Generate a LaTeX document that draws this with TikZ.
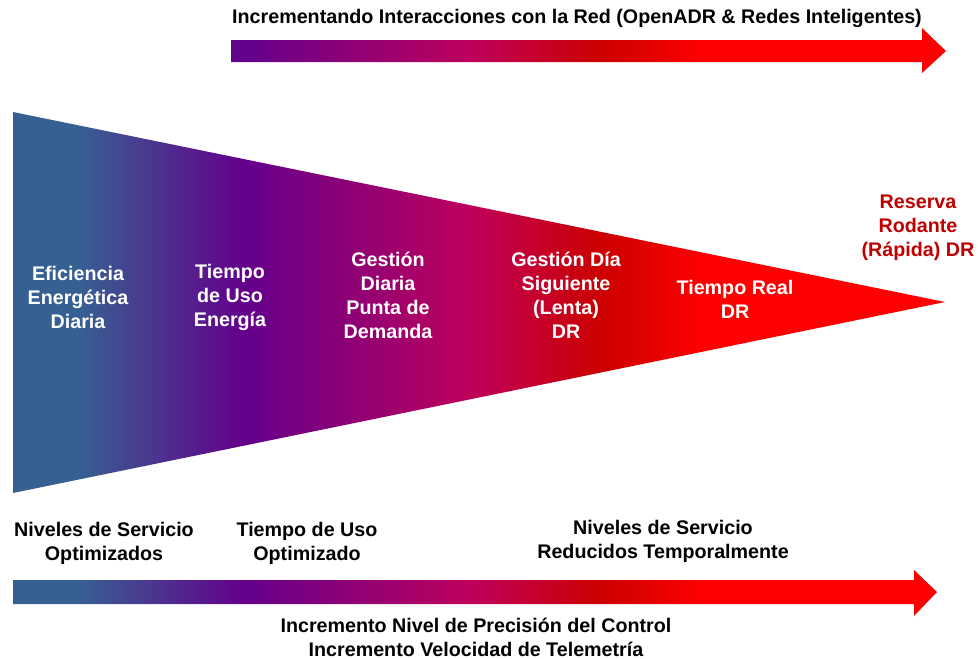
\documentclass[tikz,border=0pt]{standalone}
\usepackage{fontspec}
\setmainfont{Liberation Sans}
\usetikzlibrary{positioning}
\definecolor{colorAzul}{RGB}{54,96,146}
\definecolor{colorMorado}{RGB}{100,0,140}
\definecolor{colorMagenta}{RGB}{190,0,92}
\definecolor{colorGranate}{RGB}{204,0,0}
\definecolor{colorRojo}{RGB}{255,0,0}
\definecolor{colorReserva}{RGB}{192,0,0}

% degradado comun: el tramo central (25bp a 75bp) cubre el ancho de la pagina
\pgfdeclarehorizontalshading{degradado}{100bp}{
	color(0bp)=(colorAzul); color(29bp)=(colorAzul); color(37.5bp)=(colorMorado);
	color(49bp)=(colorMagenta); color(55.7bp)=(colorGranate); color(61bp)=(colorRojo);
	color(100bp)=(colorRojo)}

\begin{document}
\begin{tikzpicture}[
	x=1pt, y=-1pt,
	font=\bfseries\fontsize{19.7}{24}\selectfont,
	etiqueta/.style={align=center, inner sep=0pt},
	blanco/.style={etiqueta, text=white},
	negro/.style={etiqueta, text=black},
	]
\useasboundingbox (0,0) rectangle (978,659);

% Flecha superior
\begin{scope}
	\clip (231,40) -- (922,40) -- (922,28) -- (946,51) -- (922,73) -- (922,62) -- (231,62) -- cycle;
	\shade[shading=degradado] (0,0) rectangle (978,100);
\end{scope}
\node[negro] (titulo) at (577,18) {Incrementando Interacciones con la Red (OpenADR \& Redes Inteligentes)};

% Embudo
\begin{scope}
	\clip (13,112) -- (945,302) -- (13,493) -- cycle;
	\shade[shading=degradado] (0,100) rectangle (978,500);
\end{scope}

\node[blanco] (eficiencia) at (78,297) {Eficiencia\\Energética\\Diaria};
\node[blanco] (tiempoUso) at (230,297) {Tiempo\\de Uso\\Energía};
\node[blanco] (gestionDiaria) at (388,295) {Gestión\\Diaria\\Punta de\\Demanda};
\node[blanco] (gestionSiguiente) at (566,295) {Gestión Día\\Siguiente\\(Lenta)\\DR};
\node[blanco] (tiempoReal) at (735,299) {Tiempo Real\\DR};
\node[etiqueta, text=colorReserva] (reserva) at (918,228) {Reserva\\Rodante\\(Rápida) DR};

% Niveles de servicio
\node[negro] (nivelesOpt) at (104,543) {Niveles de Servicio\\Optimizados};
\node[negro] (tiempoOpt) at (307,543) {Tiempo de Uso\\Optimizado};
\node[negro] (nivelesRed) at (663,541) {Niveles de Servicio\\Reducidos Temporalmente};

% Flecha inferior
\begin{scope}
	\clip (13,580) -- (914,580) -- (914,570) -- (937,592) -- (914,616) -- (914,604) -- (13,604) -- cycle;
	\shade[shading=degradado] (0,560) rectangle (978,620);
\end{scope}
\node[negro] (precision) at (476,637) {Incremento Nivel de Precisión del Control\\Incremento Velocidad de Telemetría};

\end{tikzpicture}
\end{document}
